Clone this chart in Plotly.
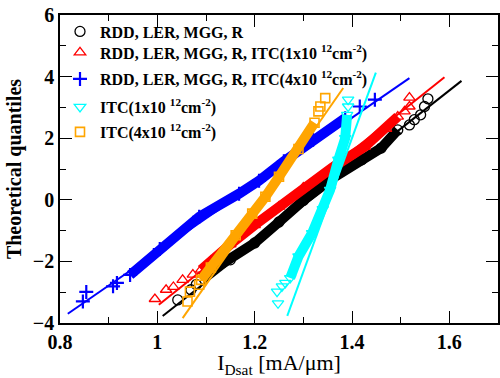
import plotly.graph_objects as go

# ---- data (IDsat [mA/um] vs theoretical quantile) ----
blk_x = [1.042, 1.069, 1.080, 1.097, 1.150, 1.200, 1.250, 1.300, 1.360, 1.420, 1.460, 1.494, 1.518, 1.528, 1.541, 1.549, 1.556]
blk_q = [-3.25, -2.92, -2.75, -2.44, -1.95, -1.40, -0.72, -0.02, 0.70, 1.30, 1.68, 2.27, 2.43, 2.60, 2.76, 3.03, 3.28]

red_x = [0.995, 1.018, 1.033, 1.052, 1.073, 1.090, 1.110, 1.150, 1.200, 1.250, 1.300, 1.360, 1.426, 1.470, 1.494, 1.508, 1.518, 1.518]
red_q = [-3.22, -2.92, -2.83, -2.60, -2.43, -2.27, -1.98, -1.45, -0.82, -0.22, 0.40, 1.05, 1.72, 2.30, 2.70, 2.87, 3.03, 3.32]

blu_x = [0.847, 0.854, 0.909, 0.917, 0.944, 1.005, 1.086, 1.168, 1.209, 1.260, 1.320, 1.386, 1.416, 1.447]
blu_q = [-3.30, -2.99, -2.81, -2.70, -2.44, -1.60, -0.55, 0.20, 0.62, 1.25, 1.95, 2.65, 3.03, 3.25]

cya_x = [1.248, 1.246, 1.256, 1.263, 1.273, 1.290, 1.318, 1.340, 1.355, 1.372, 1.386, 1.390, 1.392, 1.392]
cya_q = [-3.36, -2.98, -2.81, -2.70, -2.54, -1.84, -1.08, -0.30, 0.32, 1.30, 2.00, 2.76, 3.03, 3.25]

ora_x = [1.062, 1.067, 1.086, 1.090, 1.110, 1.161, 1.195, 1.222, 1.250, 1.290, 1.323, 1.331, 1.335, 1.345]
ora_q = [-3.30, -2.98, -2.76, -2.60, -2.20, -1.15, -0.45, 0.10, 0.75, 1.65, 2.50, 2.87, 3.03, 3.30]

# dense-band index ranges (start, stop) within each series
blk_band = (3, 12)
red_band = (5, 15)
blu_band = (4, 12)
cya_band = (4, 12)
ora_band = (3, 11)

# fitted normal lines: (x0, x1), (q0, q1)
blk_fit_x, blk_fit_q = [1.011, 1.625], [-3.77, 3.86]
red_fit_x, red_fit_q = [1.003, 1.590], [-3.41, 3.98]
blu_fit_x, blu_fit_q = [0.816, 1.518], [-3.70, 3.95]
cya_fit_x, cya_fit_q = [1.267, 1.449], [-3.77, 4.13]
ora_fit_x, ora_fit_q = [1.052, 1.382], [-3.84, 3.63]

names = [
    "RDD, LER, MGG, R",
    "RDD, LER, MGG, R, ITC(1x10 <sup>12</sup>cm<sup>-2</sup>)",
    "RDD, LER, MGG, R, ITC(4x10 <sup>12</sup>cm<sup>-2</sup>)",
    "ITC(1x10 <sup>12</sup>cm<sup>-2</sup>)",
    "ITC(4x10 <sup>12</sup>cm<sup>-2</sup>)",
]

series = [
    (blk_x, blk_q, blk_band, blk_fit_x, blk_fit_q, "#000000", "circle-open", 10, 1.3),
    (red_x, red_q, red_band, red_fit_x, red_fit_q, "#ff0000", "triangle-up-open", 10, 1.3),
    (blu_x, blu_q, blu_band, blu_fit_x, blu_fit_q, "#0000ff", "cross-thin-open", 10, 2.2),
    (cya_x, cya_q, cya_band, cya_fit_x, cya_fit_q, "#00ffff", "triangle-down-open", 10, 1.3),
    (ora_x, ora_q, ora_band, ora_fit_x, ora_fit_q, "#ffa500", "square-open", 9, 1.6),
]

legend_ids = ["legend", "legend2", "legend3", "legend4", "legend5"]
legend_rows_px = [31.5, 52.5, 79.0, 107.0, 132.0]   # row centres in the reference (pixels)

fig = go.Figure()
serif = "Liberation Serif, Times New Roman, serif"

for (sx, sq, band, fx, fq, col, sym, ms, lw), nm, lid in zip(series, names, legend_ids):
    a, b = band
    fig.add_trace(go.Scatter(x=sx[a:b], y=sq[a:b], mode="lines",
                             line=dict(color=col, width=10),
                             showlegend=False, hoverinfo="skip"))
    fig.add_trace(go.Scatter(x=sx, y=sq, mode="markers", name=nm, legend=lid,
                             marker=dict(symbol=sym, size=ms, color=col,
                                         line=dict(color=col, width=lw))))
    fig.add_trace(go.Scatter(x=fx, y=fq, mode="lines",
                             line=dict(color=col, width=2),
                             showlegend=False, hoverinfo="skip"))

axis_common = dict(
    showline=True, linecolor="black", linewidth=1.5, mirror="allticks",
    ticks="inside", ticklen=12, tickwidth=1.3, tickcolor="black",
    showgrid=False, zeroline=False,
    tickfont=dict(family=serif, size=20, color="black", weight="bold"),
)

fig.update_xaxes(range=[0.8, 1.7], dtick=0.2, tick0=0.8,
                 minor=dict(dtick=0.1, ticks="inside", ticklen=6, tickcolor="black", tickwidth=1.2),
                 title=dict(text="I<sub>Dsat</sub> [mA/μm]", standoff=0,
                            font=dict(family=serif, size=22, color="black")),
                 **axis_common)
fig.update_yaxes(range=[-4, 6], dtick=2, tick0=-4,
                 minor=dict(dtick=1, ticks="inside", ticklen=6, tickcolor="black", tickwidth=1.2),
                 title=dict(text="Theoretical quantiles", standoff=6,
                            font=dict(family=serif, size=20, color="black", weight="bold")),
                 **axis_common)

plot_top, plot_h = 15, 308
legend_font = dict(family=serif, size=16, color="black", weight="bold")
leg_layout = {}
for lid, py in zip(legend_ids, legend_rows_px):
    leg_layout[lid] = dict(x=0.0, y=1 - (py - plot_top) / plot_h, xanchor="left", yanchor="middle",
                           bgcolor="rgba(0,0,0,0)", borderwidth=0, font=legend_font,
                           itemwidth=30, tracegroupgap=0)

fig.update_layout(
    width=500, height=378,
    margin=dict(l=60, r=0, t=15, b=55),
    plot_bgcolor="white", paper_bgcolor="white",
    **leg_layout,
)

fig.write_html("out.html")
